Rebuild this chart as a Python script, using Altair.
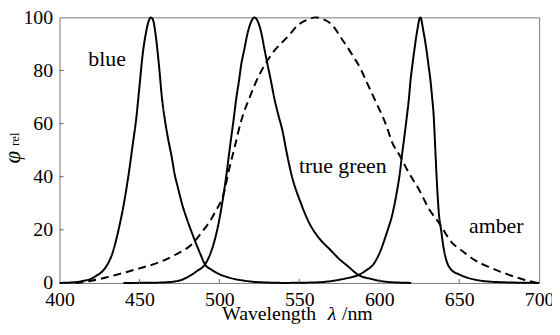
import altair as alt
import pandas as pd

# ---- data ----
blue_wl = [400, 410, 415, 420, 423, 427, 430, 433, 435.5, 438, 440, 443, 446, 448, 450, 452, 454, 456, 457.2,
           458.5, 460, 461, 462.5, 464, 466, 468, 470, 472, 474, 477, 480, 484, 488, 491, 495, 500, 505, 510,
           515, 520, 530, 540]
blue_val = [0, 0.3, 0.8, 1.6, 2.7, 4.5, 7, 11, 16.4, 23, 29, 40, 53, 62, 74, 86, 94, 99, 100,
            99, 94, 89, 80, 70, 61, 54, 48, 41, 36, 29, 23.5, 17, 11, 7, 5, 3.3, 2.2, 1.4,
            0.9, 0.5, 0.15, 0]

green_wl = [440, 460, 468, 475, 481.6, 486, 491, 494, 497, 500, 504, 507, 509, 510.6, 512.2, 513.6, 515.7,
            517.8, 520, 521.9, 524, 526.1, 528.1, 530.2, 532.3, 534.3, 536.8, 539.5, 541.8, 545, 551, 556,
            563, 569, 575, 580, 587, 595, 605, 620]
green_val = [0, 0.1, 0.3, 0.9, 2.7, 4.5, 7, 10.5, 16, 24, 39, 53, 62, 69.7, 75.9, 82, 88.3,
             94.5, 98.5, 100, 98.5, 94.5, 88.3, 82, 75.9, 69.7, 63.4, 57.2, 50, 41, 30, 22.8,
             16.4, 12.7, 9, 6.5, 3, 1.5, 0.4, 0]

amber_wl = [540, 560, 567.4, 575, 580, 587, 592, 596.3, 600, 604.6, 608.3, 610.8, 612.8, 614.3, 615.9, 617.4,
            618.6, 619.5, 620.7, 622.1, 623.6, 625.7, 627.7, 629.4, 630.8, 632.1, 633.1, 634, 635, 636, 637.3,
            638.7, 640.1, 641.9, 645, 650, 655, 662, 675, 700]
amber_val = [0, 0.2, 0.5, 1.2, 1.8, 3, 4.8, 7, 11, 18.7, 26.1, 33.6, 41, 48.5, 56, 63.4,
             69.7, 75.9, 82, 88.3, 94.5, 100, 94.5, 88.3, 82, 75.9, 69.7, 63.4, 51, 38.5, 26.1,
             19.9, 13.7, 8.7, 5, 3.2, 2, 1, 0.3, 0]

eye_wl = [410, 420.7, 430, 441.3, 450, 462, 472, 482.6, 488.8, 497.1, 503.3, 505.4, 509.5, 513.6, 518.8, 525,
          532.3, 543.6, 549, 556, 560, 565, 570, 577, 583, 588, 593, 598, 604.6, 608, 612.8, 618, 625, 631,
          637.6, 645, 652, 660, 668.6, 680, 689, 697.6, 700]
eye_val = [0, 0.9, 2.2, 4, 5.5, 7.7, 10.5, 14.5, 18.9, 26.4, 35, 41, 51, 61, 69.7, 78.4,
           85.8, 93.3, 97, 99.3, 100, 99.3, 97.5, 91.5, 86, 81, 74.5, 68, 59, 53, 48, 42, 35, 28,
           22.4, 15.5, 12, 8.5, 6, 3.3, 1.5, 0.2, 0]

label_text = ["blue", "true green", "amber"]
label_wl = [418, 549.8, 656.2]
label_val = [81.7, 41.3, 18.9]

x_ticks = [400, 450, 500, 550, 600, 650, 700]
y_ticks = [0, 20, 40, 60, 80, 100]
x_inner = [450, 500, 550, 600, 650]
y_inner = [20, 40, 60, 80]

rows = []
for name, wls, vals, kind in [("blue", blue_wl, blue_val, "solid"),
                              ("green", green_wl, green_val, "solid"),
                              ("amber", amber_wl, amber_val, "solid"),
                              ("eye", eye_wl, eye_val, "dashed")]:
    for w, v in zip(wls, vals):
        rows.append({"series": name, "wl": w, "val": v, "kind": kind})
df = pd.DataFrame(rows)
labels = pd.DataFrame({"text": label_text, "wl": label_wl, "val": label_val})

FONT = "Liberation Serif"
x_scale = alt.Scale(domain=[400, 700], nice=False, zero=False)
y_scale = alt.Scale(domain=[0, 100], nice=False)
x_axis = alt.Axis(values=x_ticks, title=None, format="d", labelFlush=False)
y_axis = alt.Axis(values=y_ticks, title=None, format="d", labelFlush=False)

lines = alt.Chart(df).mark_line(color="black", strokeWidth=2, interpolate="monotone").encode(
    x=alt.X("wl:Q", scale=x_scale, axis=x_axis),
    y=alt.Y("val:Q", scale=y_scale, axis=y_axis),
    detail="series:N",
    strokeDash=alt.StrokeDash("kind:N", scale=alt.Scale(domain=["solid", "dashed"], range=[[1, 0], [8, 5]]),
                              legend=None),
)

xt = alt.Chart(pd.DataFrame({"wl": x_inner})).mark_rule(color="#666666", strokeWidth=1).encode(
    x=alt.X("wl:Q", scale=x_scale, axis=x_axis), y=alt.value(268), y2=alt.value(264))
yt = alt.Chart(pd.DataFrame({"val": y_inner})).mark_rule(color="#666666", strokeWidth=1).encode(
    y=alt.Y("val:Q", scale=y_scale, axis=y_axis), x=alt.value(0), x2=alt.value(4))

text = alt.Chart(labels).mark_text(font=FONT, fontSize=22, align="left", baseline="alphabetic",
                                   color="black").encode(
    x=alt.X("wl:Q", scale=x_scale, axis=x_axis), y=alt.Y("val:Q", scale=y_scale, axis=y_axis),
    text="text:N")

one = pd.DataFrame({"a": [0]})


def label_mark(txt, x, y, size, angle=0, style="normal", align="center", baseline="middle"):
    return alt.Chart(one).mark_text(text=txt, font=FONT, fontSize=size, fontStyle=style, angle=angle,
                                    align=align, baseline=baseline, color="black").encode(
        x=alt.value(x), y=alt.value(y))


phi = label_mark("φ", -46.5, 141, 23, angle=270, style="italic")
rel = label_mark("rel", -44.5, 123, 13, angle=270)
t1 = label_mark("Wavelength", 164, 305.5, 20, align="left", baseline="alphabetic")
t2 = label_mark("λ", 275, 305.5, 20, style="italic", baseline="alphabetic")
t3 = label_mark("/nm", 285, 305.5, 20, align="left", baseline="alphabetic")

chart = alt.layer(lines, xt, yt, text, phi, rel, t1, t2, t3).properties(
    width=484, height=268,
    autosize=alt.AutoSizeParams(type="none"),
    padding={"left": 52, "top": 8, "right": 13, "bottom": 42},
).configure_view(
    stroke="#777777", strokeWidth=1
).configure_axis(
    labelFont=FONT, labelFontSize=20, labelColor="black", domain=False, ticks=False, tickSize=0,
    grid=False,
).configure_axisX(
    labelPadding=7
).configure_axisY(
    labelPadding=7
)

chart.save("out.html", embed_options={"renderer": "svg", "actions": False})
